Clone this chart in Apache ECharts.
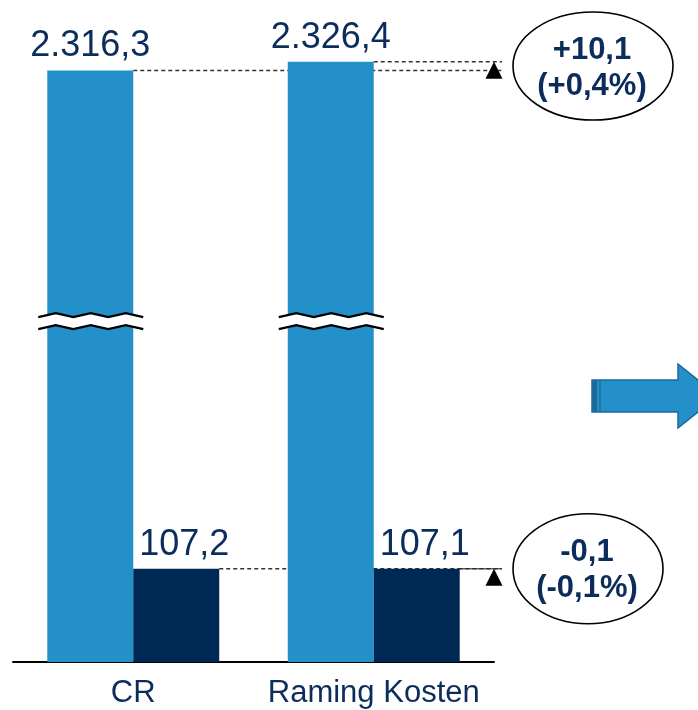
<!DOCTYPE html>
<html>
<head>
<meta charset="utf-8">
<script src="https://cdn.jsdelivr.net/npm/echarts@6/dist/echarts.min.js"></script>
<style>
html,body{margin:0;padding:0;background:#fff;}
#main{width:698px;height:710px;}
</style>
</head>
<body>
<div id="main"></div>
<script>
// ---- data ----
const categories = ['CR', 'Raming Kosten'];
const totalValues = [2316.3, 2326.4];
const subValues = [107.2, 107.1];
const deltaTotal = ['+10,1', '(+0,4%)'];
const deltaSub = ['-0,1', '(-0,1%)'];
const axisBreak = { start: 372, end: 2048 };

const NAVY = '#0c2d5c';
const LIGHT = '#2390c9';
const DARK = '#002855';

function fmt(v) {
  const parts = v.toFixed(1).split('.');
  const int = parts[0].replace(/\B(?=(\d{3})+(?!\d))/g, '.');
  return int + ',' + parts[1];
}

const chart = echarts.init(document.getElementById('main'), null, { renderer: 'canvas' });

const option = {
  animation: false,
  backgroundColor: '#fff',
  grid: { left: 13, right: 204, top: 15, bottom: 48, containLabel: false },
  xAxis: {
    type: 'category',
    data: categories,
    axisLine: { lineStyle: { color: '#000', width: 2 } },
    axisTick: { show: false },
    axisLabel: { interval: 0, hideOverlap: false, fontSize: 31, color: NAVY, fontFamily: 'Liberation Sans, Arial, sans-serif', margin: 16 }
  },
  yAxis: {
    type: 'value',
    min: 0,
    max: 2380,
    show: false,
    splitLine: { show: false },
    breaks: [{ start: axisBreak.start, end: axisBreak.end, gap: '5.3%' }],
    breakArea: { show: false }
  },
  series: [
    {
      type: 'bar',
      data: totalValues,
      barGap: 0,
      barCategoryGap: '28.5%',
      itemStyle: { color: LIGHT },
      label: {
        show: true, position: 'top', distance: 6,
        formatter: p => fmt(p.value),
        fontSize: 36, color: NAVY, fontFamily: 'Liberation Sans, Arial, sans-serif'
      }
    },
    {
      type: 'bar',
      data: subValues,
      barGap: 0,
      barCategoryGap: '28.5%',
      itemStyle: { color: DARK },
      label: {
        show: true, position: 'top', distance: 6, offset: [8, 0],
        formatter: p => fmt(p.value),
        fontSize: 36, color: NAVY, fontFamily: 'Liberation Sans, Arial, sans-serif'
      }
    }
  ]
};
chart.setOption(option);

function layoutOf(si, i) {
  const l = chart.getModel().getSeriesByIndex(si).getData().getItemLayout(i);
  const top = Math.min(l.y, l.y + l.height);
  return { left: l.x, right: l.x + l.width, top: top, bottom: Math.max(l.y, l.y + l.height) };
}

function build() {
  const g = [];
  const rect = chart.getModel().getComponent('grid', 0).coordinateSystem.getRect();
  const gridRight = rect.x + rect.width;
  const yPx = v => chart.convertToPixel({ yAxisIndex: 0 }, v);

  const t0 = layoutOf(0, 0), t1 = layoutOf(0, 1);
  const s0 = layoutOf(1, 0), s1 = layoutOf(1, 1);
  const dash = { stroke: '#333', lineWidth: 1.5, lineDash: [4, 3] };
  const lineEnd = gridRight + 8;

  // dashed reference lines (behind bars)
  [[t0.right, t0.top], [t1.right, t1.top], [s0.right, s0.top], [s1.right, s1.top]].forEach(p => {
    g.push({ type: 'line', z: 1, shape: { x1: p[0], y1: p[1], x2: lineEnd, y2: p[1] }, style: dash });
  });

  // triangles
  [Math.min(t0.top, t1.top), Math.min(s0.top, s1.top)].forEach(y => {
    g.push({ type: 'polygon', z: 100, shape: { points: [[gridRight, y], [gridRight - 8.5, y + 17], [gridRight + 8.5, y + 17]] }, style: { fill: '#000' } });
  });

  // ellipses
  const ells = [
    { cx: gridRight + 99, cy: (t0.top + t1.top) / 2, rx: 80, ry: 54, txt: deltaTotal },
    { cx: gridRight + 94, cy: (s0.top + s1.top) / 2, rx: 75, ry: 55, txt: deltaSub }
  ];
  ells.forEach(e => {
    g.push({ type: 'ellipse', z: 100, shape: { cx: e.cx, cy: e.cy, rx: e.rx, ry: e.ry }, style: { fill: '#fff', stroke: '#000', lineWidth: 1.6 } });
    g.push({
      type: 'text', z: 101, x: e.cx - 1, y: e.cy + 2,
      style: {
        text: e.txt.join('\n'), fill: NAVY, font: 'bold 31px "Liberation Sans", Arial, sans-serif',
        align: 'center', verticalAlign: 'middle', lineHeight: 36
      }
    });
  });

  // zigzag break marks on tall bars
  const yc = (yPx(axisBreak.start) + yPx(axisBreak.end)) / 2;
  [t0, t1].forEach(b => {
    const x0 = b.left - 9, x1 = b.right + 10;
    const n = 6, step = (x1 - x0) / n;
    const topPts = [], botPts = [];
    for (let k = 0; k <= n; k++) {
      const up = (k % 2 === 1) ? -2 : 2;
      topPts.push([x0 + k * step, yc - 6 + up]);
      botPts.push([x0 + k * step, yc + 6 + up]);
    }
    g.push({ type: 'polygon', z: 100, shape: { points: topPts.concat(botPts.slice().reverse()) }, style: { fill: '#fff' } });
    g.push({ type: 'polyline', z: 101, shape: { points: topPts }, style: { stroke: '#000', lineWidth: 2.3, fill: null } });
    g.push({ type: 'polyline', z: 101, shape: { points: botPts }, style: { stroke: '#000', lineWidth: 2.3, fill: null } });
  });

  // decorative arrow on the right
  g.push({
    type: 'polygon', z: 100,
    shape: { points: [[592, 380], [678, 380], [678, 364], [718, 396], [678, 428], [678, 412], [592, 412]] },
    style: { fill: LIGHT, stroke: '#1b6a9c', lineWidth: 1.5 }
  });
  g.push({ type: 'rect', z: 101, shape: { x: 592, y: 380, width: 5, height: 32 }, style: { fill: '#1b6a9c' } });
  g.push({ type: 'line', z: 101, shape: { x1: 600, y1: 380, x2: 600, y2: 412 }, style: { stroke: '#1b6a9c', lineWidth: 1.2 } });

  chart.setOption({ graphic: { elements: g } });
}
build();
</script>
</body>
</html>
